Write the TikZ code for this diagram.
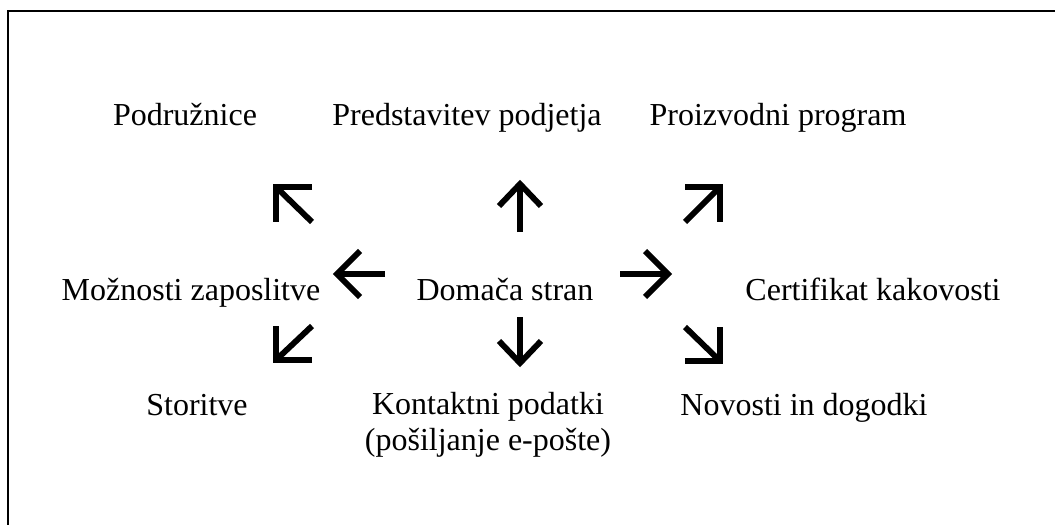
\documentclass[tikz,border=0pt]{standalone}
\usepackage{fontspec}
\setmainfont{Liberation Serif}

\begin{document}
\begin{tikzpicture}[
    x=0.75pt, y=-0.75pt,
    item/.style={font=\fontsize{24}{26.5}\selectfont, anchor=base, inner sep=0pt, align=center},
    glyph/.style={line width=4.4pt, line join=miter, draw=black}
]

\clip (0,0) rectangle (1055,524);
\draw[line width=1.5pt] (8,11) rectangle (1100,600);

% pages of the site
\node (podruz) [item] at (185,126) {Podružnice};
\node (predst) [item] at (467,126) {Predstavitev podjetja};
\node (proizv) [item] at (778,126) {Proizvodni program};
\node (zaposl) [item] at (191,300) {Možnosti zaposlitve};
\node (domaca) [item] at (505,300) {Domača stran};
\node (certif) [item] at (873,300) {Certifikat kakovosti};
\node (storit) [item] at (197,415) {Storitve};
\node (kontakt) [item] at (488,450) {Kontaktni podatki\\(pošiljanje e-pošte)};
\node (novosti) [item] at (804,415) {Novosti in dogodki};

% arrow ends
\coordinate (upT) at (520,232);   \coordinate (upH) at (520,184);
\coordinate (dnT) at (520,317);   \coordinate (dnH) at (520,363);
\coordinate (ltT) at (385,274);   \coordinate (ltH) at (337,274);
\coordinate (rtT) at (620,274);   \coordinate (rtH) at (668,274);
\coordinate (ulT) at (312,222);   \coordinate (ulH) at (276,187);
\coordinate (dlT) at (312,326);   \coordinate (dlH) at (276,360);
\coordinate (urT) at (685,222);   \coordinate (urH) at (720,187);
\coordinate (drT) at (685,327);   \coordinate (drH) at (720,361);

% straight arrows
\draw[glyph] (upT) -- (upH);
\draw[glyph] (upH) ++(-21,22) -- (upH) -- ++(21,22);
\draw[glyph] (dnT) -- (dnH);
\draw[glyph] (dnH) ++(-21,-22) -- (dnH) -- ++(21,-22);
\draw[glyph] (ltT) -- (ltH);
\draw[glyph] (ltH) ++(23,-23) -- (ltH) -- ++(23,23);
\draw[glyph] (rtT) -- (rtH);
\draw[glyph] (rtH) ++(-23,-23) -- (rtH) -- ++(-23,23);

% diagonal arrows
\draw[glyph] (ulT) -- (ulH);
\draw[glyph] (ulH) ++(36,0) -- (ulH) -- ++(0,35);
\draw[glyph] (dlT) -- (dlH);
\draw[glyph] (dlH) ++(36,0) -- (dlH) -- ++(0,-34);
\draw[glyph] (urT) -- (urH);
\draw[glyph] (urH) ++(-35,0) -- (urH) -- ++(0,35);
\draw[glyph] (drT) -- (drH);
\draw[glyph] (drH) ++(-35,0) -- (drH) -- ++(0,-34);

\end{tikzpicture}
\end{document}
